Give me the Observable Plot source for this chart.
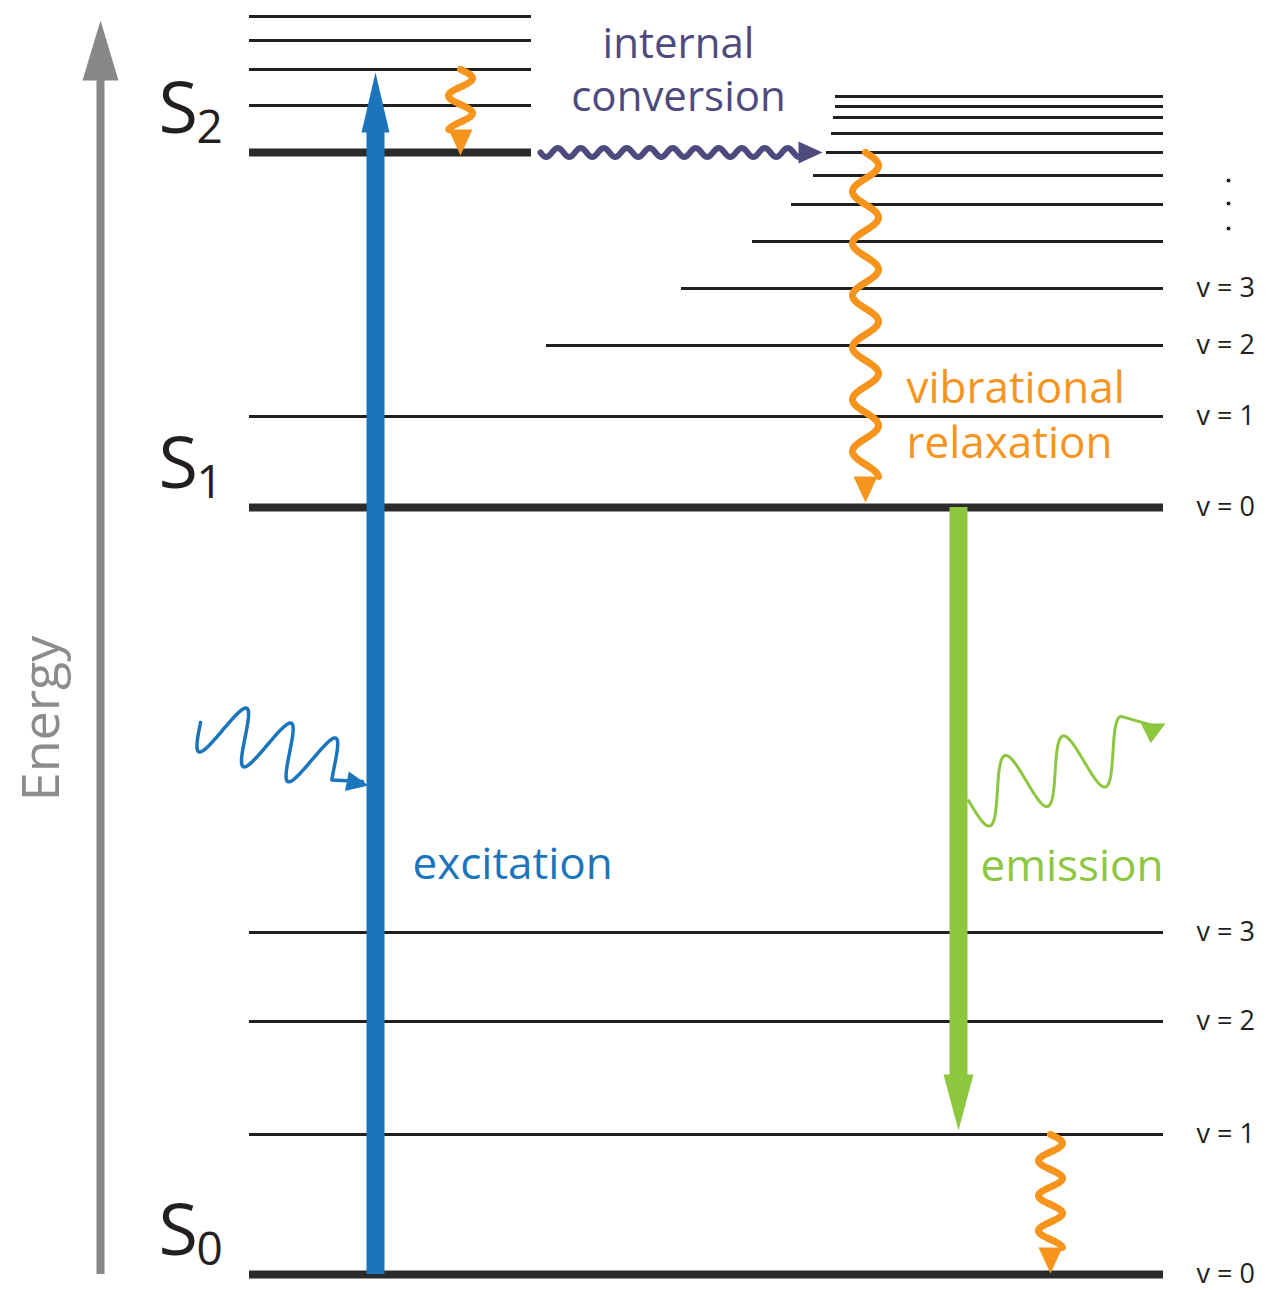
<!DOCTYPE html>
<html><head><meta charset="utf-8">
<script src="https://cdn.jsdelivr.net/npm/d3@7"></script>
<script src="https://cdn.jsdelivr.net/npm/@observablehq/plot@0.6"></script>
<style>body{margin:0;background:#fff} #chart svg{display:block}</style>
</head><body><div id="chart"></div>
<script>
// ---------------- data (energy = units above S0 v=0; x = horizontal diagram units) ----------------
const levelLeft = 249;
const levelRight = 1163;
const s0Energy = [0, 140, 253, 342];
const s0Labels = ["v = 0", "v = 1", "v = 2", "v = 3"];
const s1Energy = [767, 858, 929, 986, 1033, 1070, 1099, 1122, 1141, 1157, 1168, 1178];
const s1Left   = [249, 249, 546, 681, 752, 791, 813, 826, 831, 833, 835, 835];
const s1Labels = ["v = 0", "v = 1", "v = 2", "v = 3"];
const s2Energy = [1122, 1169, 1205, 1234, 1258];
const s2Right = 531;
const ellipsisEnergy = [1094, 1071, 1046];
const ellipsisX = 1228;
const stateSubs = ["0", "1", "2"];
const stateEnergy = [0, 767, 1122];

// transitions
const excitation = {x: 375, from: 0, to: 1202};
const emission   = {x: 958, from: 767, to: 144};
const relaxations = [
  {x: 865,  from: 1122, to: 772},   // S1 vibrational relaxation
  {x: 460,  from: 1205, to: 1119},  // within S2
  {x: 1050, from: 140,  to: 1}      // within S0
];
const internalConversion = {e: 1122, from: 540, to: 822};
const photonIn  = {x0: 200, e0: 552, x1: 337, e1: 506, tipX: 368, tipE: 489};
const photonOut = {x0: 968, e0: 474, x1: 1128, e1: 528, tipX: 1165, tipE: 551};
const energyAxis = {x: 100, from: 0, to: 1254};

const centeredNotes = [
  {text: "internal\nconversion", x: 678, e: 1164, key: "purple"}
];
const leftNotes = [
  {text: "vibrational\nrelaxation", x: 906, e: 817, key: "orange", lh: 1.25},
  {text: "excitation",  x: 412, e: 396,  key: "blue"},
  {text: "emission",    x: 980, e: 394,  key: "green"}
];

const colors = {level: "#231f20", axis: "#87888a", blue: "#1b75bc", green: "#8dc63f",
                orange: "#f7941d", purple: "#4f4a7e", label: "#231f20"};

// ---------------- helpers ----------------
function wave(x0, e0, x1, e1, amp, period, skew = 0, id = "w") {
  const dx = x1 - x0, de = e1 - e0, L = Math.hypot(dx, de);
  const nx = -de / L, ne = dx / L;
  const pts = [];
  for (let s = 0; s <= L; s += 0.5) {
    const w = -amp * Math.sin(2 * Math.PI * s / period);
    pts.push({x: x0 + dx * s / L + nx * w + skew * w, e: e0 + de * s / L + ne * w, id});
  }
  return pts;
}
function head(tipX, tipE, fromX, fromE, len, hw, id) {
  const dx = tipX - fromX, de = tipE - fromE, L = Math.hypot(dx, de);
  const ux = dx / L, ue = de / L;
  const bx = tipX - ux * len, be = tipE - ue * len;
  const nx = -ue, ne = ux;
  return [{x: bx + nx * hw, e: be + ne * hw, id}, {x: tipX, e: tipE, id}, {x: bx - nx * hw, e: be - ne * hw, id}];
}

const levels = [
  ...s0Energy.map((e, i) => ({e, x1: levelLeft, x2: levelRight, thick: i === 0})),
  ...s1Energy.map((e, i) => ({e, x1: s1Left[i], x2: levelRight, thick: i === 0})),
  ...s2Energy.map((e, i) => ({e, x1: levelLeft, x2: s2Right, thick: i === 0}))
];
const vLabels = [
  ...s0Labels.map((t, i) => ({t, e: s0Energy[i]})),
  ...s1Labels.map((t, i) => ({t, e: s1Energy[i]}))
];
const states = stateSubs.map((sub, i) => ({sub, e: stateEnergy[i]}));

// orange squiggles
const orangeWaves = [], orangeHeads = [];
relaxations.forEach((r, i) => {
  const headLen = 26;
  const baseE = r.to + headLen;
  const period = i === 0 ? 52 : 35;
  orangeWaves.push(...wave(r.x, r.from, r.x, baseE, i === 0 ? -13 : -12, period, 0, "o" + i));
  orangeHeads.push(...head(r.x, r.to, r.x, baseE, headLen, 12, "o" + i));
});
// internal conversion
const icWave = wave(internalConversion.from, internalConversion.e, internalConversion.to - 22, internalConversion.e, 4.5, 23);
const icHead = head(internalConversion.to, internalConversion.e, internalConversion.from, internalConversion.e, 24, 11, "ic");
// photons
const pInWave = wave(photonIn.x0, photonIn.e0, photonIn.x1, photonIn.e1, 27, 47, 0.15, "pin");
pInWave.push({x: photonIn.tipX - 6, e: photonIn.tipE + 4, id: "pin"});
const pInHead = head(photonIn.tipX, photonIn.tipE, pInWave[pInWave.length - 3].x, pInWave[pInWave.length - 3].e, 22, 10, "pin");
const pOutWave = wave(photonOut.x0, photonOut.e0, photonOut.x1, photonOut.e1, 32, 61, 0.1, "pout");
pOutWave.push({x: photonOut.tipX - 6, e: photonOut.tipE - 4, id: "pout"});
const pOutHead = head(photonOut.tipX, photonOut.tipE, photonOut.tipX - 24, photonOut.tipE - 12, 22, 11, "pout");
// straight arrow heads
const excHead = head(excitation.x, excitation.to, excitation.x, excitation.from, 60, 14, "exc");
const emHead = head(emission.x, emission.to, emission.x, emission.from, 56, 15, "em");
const axHead = head(energyAxis.x, energyAxis.to, energyAxis.x, energyAxis.from, 60, 18, "ax");

const font = "'Open Sans', 'Noto Sans', sans-serif";

const chart = Plot.plot({
  width: 1274, height: 1290, margin: 0,
  x: {domain: [0, 1274], range: [0, 1274], axis: null},
  y: {domain: [0, 1274], range: [1274, 0], axis: null},
  style: {fontFamily: font, background: "#fff"},
  marks: [
    // energy axis
    Plot.ruleX([energyAxis], {x: "x", y1: "from", y2: d => d.to - 58, stroke: colors.axis, strokeWidth: 8}),
    Plot.line(axHead, {x: "x", y: "e", z: "id", fill: colors.axis, stroke: "none"}),
    Plot.text(["Energy"], {x: 58, y: 556, text: d => d, rotate: -90, fill: "#8c8c8c", fontSize: 52,
      textAnchor: "middle", lineAnchor: "bottom"}),
    // levels
    Plot.ruleY(levels.filter(d => !d.thick), {y: "e", x1: "x1", x2: "x2", stroke: colors.level, strokeWidth: 3}),
    Plot.ruleY(levels.filter(d => d.thick), {y: "e", x1: "x1", x2: "x2", stroke: "#2b2b2b", strokeWidth: 8}),
    Plot.dot(ellipsisEnergy, {x: ellipsisX, y: d => d, r: 2, fill: colors.level, stroke: "none"}),
    Plot.text(vLabels, {x: 1196, y: "e", text: "t", textAnchor: "start", fontSize: 27, fill: colors.label}),
    // state labels
    Plot.text(states, {x: 158, y: "e", text: () => "S", dy: -20, lineAnchor: "bottom", textAnchor: "start", fontSize: 72, fill: colors.label}),
    Plot.text(states, {x: 196, y: "e", text: "sub", dy: -10, lineAnchor: "bottom", textAnchor: "start", fontSize: 46, fill: colors.label}),
    // excitation
    Plot.ruleX([excitation], {x: "x", y1: "from", y2: d => d.to - 56, stroke: colors.blue, strokeWidth: 18}),
    Plot.line(excHead, {x: "x", y: "e", z: "id", fill: colors.blue, stroke: "none"}),
    Plot.line(pInWave, {x: "x", y: "e", z: "id", stroke: colors.blue, strokeWidth: 3.5, curve: "linear"}),
    Plot.line(pInHead, {x: "x", y: "e", z: "id", fill: colors.blue, stroke: "none"}),
    // emission
    Plot.ruleX([emission], {x: "x", y1: "from", y2: d => d.to + 52, stroke: colors.green, strokeWidth: 18}),
    Plot.line(emHead, {x: "x", y: "e", z: "id", fill: colors.green, stroke: "none"}),
    Plot.line(pOutWave, {x: "x", y: "e", z: "id", stroke: colors.green, strokeWidth: 3, curve: "linear"}),
    Plot.line(pOutHead, {x: "x", y: "e", z: "id", fill: colors.green, stroke: "none"}),
    // relaxations
    Plot.line(orangeWaves, {x: "x", y: "e", z: "id", stroke: colors.orange, strokeWidth: 7}),
    Plot.line(orangeHeads, {x: "x", y: "e", z: "id", fill: colors.orange, stroke: "none"}),
    // internal conversion
    Plot.line(icWave, {x: "x", y: "e", z: "id", stroke: colors.purple, strokeWidth: 6}),
    Plot.line(icHead, {x: "x", y: "e", z: "id", fill: colors.purple, stroke: "none"}),
    // annotations
    Plot.text(centeredNotes, {x: "x", y: "e", text: "text", textAnchor: "middle", lineAnchor: "bottom",
      lineHeight: 1.24, fontSize: 42, fill: d => colors[d.key]}),
    Plot.text(leftNotes.filter(d => d.lh), {x: "x", y: "e", text: "text", textAnchor: "start", lineAnchor: "bottom",
      lineHeight: 1.25, fontSize: 44, fill: d => colors[d.key]}),
    Plot.text(leftNotes.filter(d => !d.lh), {x: "x", y: "e", text: "text", textAnchor: "start", lineAnchor: "bottom",
      fontSize: 44, fill: d => colors[d.key]})
  ]
});
document.getElementById("chart").appendChild(chart);
</script>
</body></html>
